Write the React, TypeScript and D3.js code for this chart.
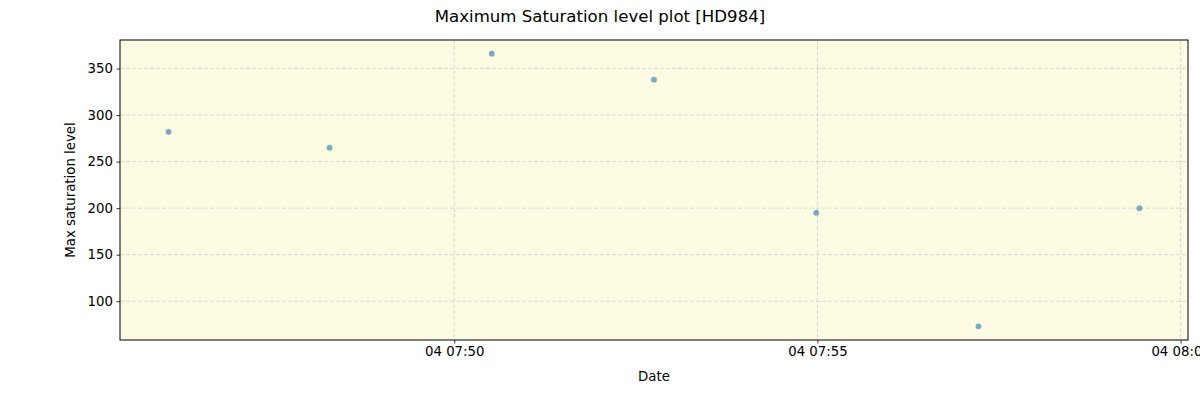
import React, { useRef, useEffect } from "react";
import * as d3 from "d3";

// observation times (UTC, day 04) and max saturation values
const times = ["07:46:04", "07:48:17", "07:50:31", "07:52:45", "07:54:59", "07:57:13", "07:59:26"];
const levels = [282, 265, 366, 338, 195, 73, 200];
const yTicks = [100, 150, 200, 250, 300, 350];
const xTickTimes = ["07:50:00", "07:55:00", "08:00:00"];

const W = 1200;
const H = 400;
const margin = { top: 40, right: 12, bottom: 60, left: 120 };

const toDate = (t: string) => new Date(`2024-01-04T${t}Z`);

const App = () => {
  const svgRef = useRef<SVGSVGElement>(null);

  useEffect(() => {
    const svg = d3.select(svgRef.current);
    svg.selectAll("*").remove();

    const font = "DejaVu Sans, sans-serif";
    const iw = W - margin.left - margin.right;
    const ih = H - margin.top - margin.bottom;

    const dates = times.map(toDate);
    const [t0, t1] = d3.extent(dates) as [Date, Date];
    const tPad = (+t1 - +t0) * 0.05;
    const x = d3
      .scaleUtc()
      .domain([new Date(+t0 - tPad), new Date(+t1 + tPad)])
      .range([0, iw]);

    const [v0, v1] = d3.extent(levels) as [number, number];
    const vPad = (v1 - v0) * 0.05;
    const y = d3.scaleLinear().domain([v0 - vPad, v1 + vPad]).range([ih, 0]);

    const g = svg.append("g").attr("transform", `translate(${margin.left},${margin.top})`);

    g.append("rect").attr("width", iw).attr("height", ih).attr("fill", "#fdfbe2");

    // grid
    const xt = xTickTimes.map(toDate);
    g.append("g")
      .selectAll("line")
      .data(xt)
      .enter()
      .append("line")
      .attr("x1", (d) => x(d))
      .attr("x2", (d) => x(d))
      .attr("y1", 0)
      .attr("y2", ih)
      .attr("stroke", "#d0d0d0")
      .attr("stroke-width", 0.8)
      .attr("stroke-dasharray", "4,2");
    g.append("g")
      .selectAll("line")
      .data(yTicks)
      .enter()
      .append("line")
      .attr("x1", 0)
      .attr("x2", iw)
      .attr("y1", (d) => y(d))
      .attr("y2", (d) => y(d))
      .attr("stroke", "#d0d0d0")
      .attr("stroke-width", 0.8)
      .attr("stroke-dasharray", "4,2");

    // points
    g.append("g")
      .selectAll("circle")
      .data(levels)
      .enter()
      .append("circle")
      .attr("cx", (d, i) => x(dates[i]))
      .attr("cy", (d) => y(d))
      .attr("r", 2.9)
      .attr("fill", "#1f77b4")
      .attr("fill-opacity", 0.6);

    // frame
    g.append("rect")
      .attr("width", iw)
      .attr("height", ih)
      .attr("fill", "none")
      .attr("stroke", "#000")
      .attr("stroke-width", 1);

    // axes
    const xAxis = g
      .append("g")
      .attr("transform", `translate(0,${ih})`)
      .call(
        d3
          .axisBottom(x)
          .tickValues(xt)
          .tickSize(3.5)
          .tickPadding(3.5)
          .tickFormat((d) => d3.utcFormat("%d %H:%M")(d as Date))
      );
    const yAxis = g.append("g").call(d3.axisLeft(y).tickValues(yTicks).tickSize(3.5).tickPadding(3.5));

    [xAxis, yAxis].forEach((a) => {
      a.select(".domain").remove();
      a.selectAll("text").attr("font-family", font).attr("font-size", 13.3).attr("fill", "#000");
      a.selectAll("line").attr("stroke", "#000").attr("stroke-width", 0.8);
    });

    svg
      .append("text")
      .attr("x", margin.left + iw / 2)
      .attr("y", 381)
      .attr("text-anchor", "middle")
      .attr("font-family", font)
      .attr("font-size", 13.3)
      .text("Date");

    svg
      .append("text")
      .attr("transform", `translate(75,${margin.top + ih / 2}) rotate(-90)`)
      .attr("text-anchor", "middle")
      .attr("font-family", font)
      .attr("font-size", 13.3)
      .text("Max saturation level");

    svg
      .append("text")
      .attr("x", W / 2)
      .attr("y", 22)
      .attr("text-anchor", "middle")
      .attr("font-family", font)
      .attr("font-size", 16.6)
      .text("Maximum Saturation level plot [HD984]");
  }, []);

  return (
    <svg
      ref={svgRef}
      width={W}
      height={H}
      style={{ position: "absolute", left: 0, top: 0, background: "#fff" }}
    ></svg>
  );
};

export default App;
